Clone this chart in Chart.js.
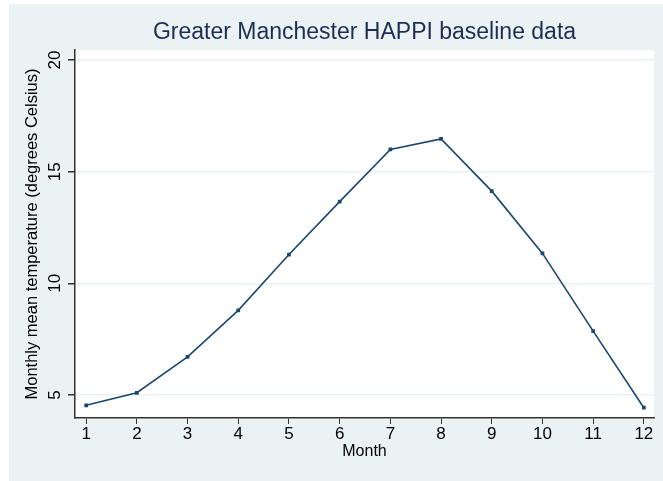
<!DOCTYPE html>
<html>
<head>
<meta charset="utf-8">
<script src="https://cdn.jsdelivr.net/npm/chart.js@4.4.1/dist/chart.umd.min.js"></script>
<style>
  html, body { margin: 0; padding: 0; background: #ffffff; }
  #wrap { width: 663px; height: 481px; }
</style>
</head>
<body>
<div id="wrap"><canvas id="c" width="663" height="481"></canvas></div>
<script>
// monthly means
const months = [1, 2, 3, 4, 5, 6, 7, 8, 9, 10, 11, 12];
const temps = [4.54, 5.1, 6.71, 8.79, 11.29, 13.66, 16.0, 16.47, 14.13, 11.34, 7.86, 4.43];
const yTicks = [5, 10, 15, 20];
const chartTitle = 'Greater Manchester HAPPI baseline data';
const yTitle = 'Monthly mean temperature (degrees Celsius)';
const xTitle = 'Month';

const bgColor = '#eaf2f3';
const lineColor = '#1a476f';
const textColor = '#000000';
const font = '"Liberation Sans", Arial, sans-serif';

// background + title + rotated y tick labels
const stataLook = {
  id: 'stataLook',
  beforeDraw: (chart) => {
    const { ctx, chartArea } = chart;
    ctx.save();
    ctx.fillStyle = '#ffffff';
    ctx.fillRect(0, 0, chart.width, chart.height);
    ctx.fillStyle = bgColor;
    ctx.fillRect(9, 4, chart.width - 9, chart.height - 4);
    ctx.fillStyle = '#ffffff';
    ctx.fillRect(chartArea.left, chartArea.top, chartArea.right - chartArea.left, chartArea.bottom - chartArea.top);
    ctx.restore();
  },
  afterDraw: (chart) => {
    const { ctx, chartArea } = chart;
    const y = chart.scales.y;
    ctx.save();
    ctx.fillStyle = '#1e2d53';
    ctx.font = '23px ' + font;
    ctx.textAlign = 'center';
    ctx.textBaseline = 'middle';
    ctx.fillText(chartTitle, (chartArea.left + chartArea.right) / 2, 33);

    ctx.fillStyle = textColor;
    ctx.font = '17px ' + font;
    yTicks.forEach(v => {
      const py = y.getPixelForValue(v);
      ctx.save();
      ctx.translate(chartArea.left - 20, py);
      ctx.rotate(-Math.PI / 2);
      ctx.fillText(String(v), 0, 0);
      ctx.restore();
    });
    ctx.restore();
  }
};

new Chart(document.getElementById('c'), {
  type: 'line',
  data: {
    datasets: [{
      label: 'temp',
      data: months.map((m, i) => ({ x: m, y: temps[i] })),
      borderColor: lineColor,
      backgroundColor: lineColor,
      borderWidth: 1.6,
      pointStyle: 'rect',
      pointRadius: 1.5,
      tension: 0,
      fill: false
    }]
  },
  options: {
    responsive: false,
    animation: false,
    layout: { padding: { left: 9, top: 50, right: 9, bottom: 0 } },
    scales: {
      x: {
        type: 'linear',
        min: 0.78,
        max: 12.2,
        afterBuildTicks: (scale) => { scale.ticks = months.map(v => ({ value: v })); },
        afterFit: (scale) => { scale.height = 63; },
        ticks: {
          color: textColor,
          font: { family: font, size: 17 },
          padding: 0,
          maxRotation: 0,
          autoSkip: false
        },
        grid: { display: true, drawOnChartArea: false, drawTicks: true, tickLength: 6, color: '#333333' },
        border: { display: true, color: '#333333', width: 1.5 },
        title: {
          display: true,
          text: xTitle,
          color: textColor,
          font: { family: font, size: 16 },
          padding: { top: 0, bottom: 20 }
        }
      },
      y: {
        type: 'linear',
        min: 3.97,
        max: 20.45,
        afterBuildTicks: (scale) => { scale.ticks = yTicks.map(v => ({ value: v })); },
        afterFit: (scale) => { scale.width = 66; },
        ticks: { display: true, color: 'rgba(0,0,0,0)', font: { family: font, size: 1 } },
        grid: { display: true, color: bgColor, lineWidth: 1.5, drawTicks: true, tickLength: 7, tickColor: '#333333' },
        border: { display: true, color: '#333333', width: 1.5 },
        title: {
          display: true,
          text: yTitle,
          color: textColor,
          font: { family: font, size: 16.5 },
          padding: { top: 14, bottom: 0 }
        }
      }
    },
    plugins: {
      legend: { display: false },
      title: { display: false },
      tooltip: { enabled: false }
    }
  },
  plugins: [stataLook]
});
</script>
</body>
</html>
